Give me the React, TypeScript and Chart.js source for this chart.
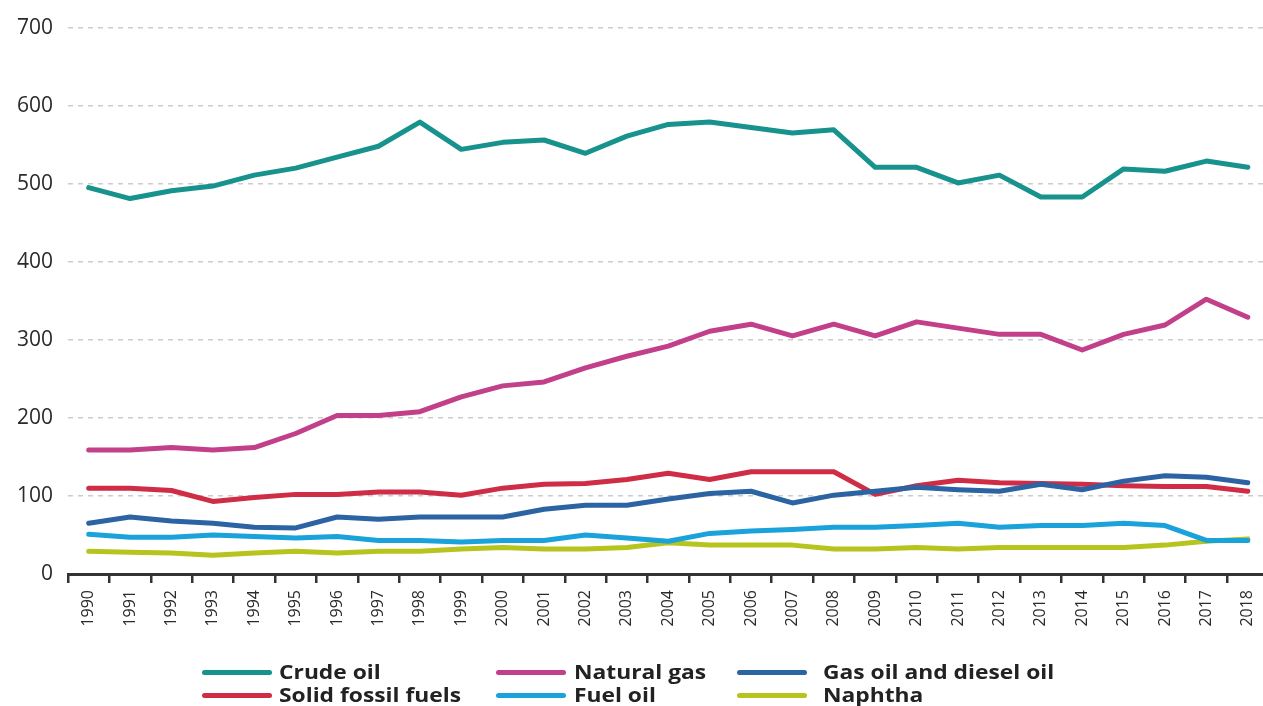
import React, { useEffect, useRef } from "react";
import { Chart, registerables } from "chart.js";

Chart.register(...registerables);

const years = [
  "1990", "1991", "1992", "1993", "1994", "1995", "1996", "1997", "1998", "1999",
  "2000", "2001", "2002", "2003", "2004", "2005", "2006", "2007", "2008", "2009",
  "2010", "2011", "2012", "2013", "2014", "2015", "2016", "2017", "2018",
];

const crudeOil = [495, 481, 491, 497, 511, 520, 534, 548, 579, 544, 553, 556, 539, 561, 576, 579, 572, 565, 569, 521, 521, 501, 511, 483, 483, 519, 516, 529, 521];
const naturalGas = [159, 159, 162, 159, 162, 180, 203, 203, 208, 227, 241, 246, 264, 279, 292, 311, 320, 305, 320, 305, 323, 315, 307, 307, 287, 307, 319, 352, 329];
const gasOilDiesel = [65, 73, 68, 65, 60, 59, 73, 70, 73, 73, 73, 83, 88, 88, 96, 103, 106, 91, 101, 106, 111, 108, 106, 115, 108, 119, 126, 124, 117];
const solidFossil = [110, 110, 107, 93, 98, 102, 102, 105, 105, 101, 110, 115, 116, 121, 129, 121, 131, 131, 131, 102, 113, 120, 117, 116, 115, 113, 112, 112, 106];
const fuelOil = [51, 47, 47, 50, 48, 46, 48, 43, 43, 41, 43, 43, 50, 46, 42, 52, 55, 57, 60, 60, 62, 65, 60, 62, 62, 65, 62, 43, 43];
const naphtha = [29, 28, 27, 24, 27, 29, 27, 29, 29, 32, 34, 32, 32, 34, 40, 37, 37, 37, 32, 32, 34, 32, 34, 34, 34, 34, 37, 42, 45];

const yTicks = [0, 100, 200, 300, 400, 500, 600, 700];

const seriesNames = ["Crude oil", "Natural gas", "Gas oil and diesel oil", "Solid fossil fuels", "Fuel oil", "Naphtha"];
const seriesColors = ["#17928d", "#c2408a", "#2b63a3", "#cf2c46", "#1aa2da", "#b6c41d"];
const seriesData = [crudeOil, naturalGas, gasOilDiesel, solidFossil, fuelOil, naphtha];

const legendCols = [
  { lineLeft: 202, textLeft: 279, items: [0, 3] },
  { lineLeft: 496, textLeft: 574, items: [1, 4] },
  { lineLeft: 737, textLeft: 823, items: [2, 5] },
];

export default function App() {
  const canvasRef = useRef<HTMLCanvasElement | null>(null);

  useEffect(() => {
    const canvas = canvasRef.current;
    if (!canvas) return;
    const chart = new Chart(canvas, {
      type: "line",
      data: {
        labels: years,
        datasets: seriesData.map((d, i) => ({
          label: seriesNames[i],
          data: d,
          borderColor: seriesColors[i],
          backgroundColor: seriesColors[i],
          borderWidth: 5,
          pointRadius: 0,
          tension: 0,
          fill: false,
          borderJoinStyle: "round" as const,
          borderCapStyle: "round" as const,
        })),
      },
      options: {
        responsive: false,
        animation: false,
        devicePixelRatio: 1,
        layout: { padding: { top: 25, right: 0, bottom: 0, left: 0 } },
        plugins: { legend: { display: false }, tooltip: { enabled: false } },
        scales: {
          x: {
            type: "category",
            offset: true,
            afterFit: (scale: any) => {
              scale.height = 132;
            },
            grid: {
              display: true,
              offset: true,
              drawOnChartArea: false,
              drawTicks: true,
              tickLength: 9,
              color: "#333333",
              lineWidth: 2.5,
            },
            border: { display: true, color: "#333333", width: 3 },
            ticks: {
              autoSkip: false,
              minRotation: 90,
              maxRotation: 90,
              padding: 7,
              color: "#2a2a2a",
              font: { family: "'Open Sans', sans-serif", size: 16 },
            },
          },
          y: {
            min: 0,
            max: 700,
            afterFit: (scale: any) => {
              scale.width = 68;
            },
            afterBuildTicks: (scale: any) => {
              scale.ticks = yTicks.map((v) => ({ value: v }));
            },
            grid: {
              color: "#cccccc",
              lineWidth: 1.5,
              drawTicks: false,
            },
            border: { display: false, dash: [5, 5] },
            ticks: {
              padding: 15,
              color: "#2a2a2a",
              font: { family: "'Open Sans', sans-serif", size: 21 },
            },
          },
        },
      },
    });
    return () => chart.destroy();
  }, []);

  return (
    <div
      style={{
        position: "fixed",
        left: 0,
        top: 0,
        width: 1263,
        height: 706,
        overflow: "hidden",
        background: "#ffffff",
      }}
    >
      <canvas ref={canvasRef} width={1274} height={706} style={{ position: "absolute", left: 0, top: 0 }} />
      {legendCols.map((col, ci) =>
        col.items.map((si, ri) => (
          <React.Fragment key={`${ci}-${ri}`}>
            <div
              style={{
                position: "absolute",
                left: col.lineLeft,
                top: 672 + ri * 23 - 2.5,
                width: 70,
                height: 5,
                borderRadius: 2.5,
                background: seriesColors[si],
              }}
            />
            <div
              style={{
                position: "absolute",
                left: col.textLeft,
                top: 672 + ri * 23 - 13,
                height: 26,
                lineHeight: "26px",
                fontFamily: "'Open Sans', sans-serif",
                fontWeight: 700,
                fontSize: 19,
                color: "#222222",
                whiteSpace: "nowrap",
                transform: "scaleX(1.2)",
                transformOrigin: "left center",
              }}
            >
              {seriesNames[si]}
            </div>
          </React.Fragment>
        ))
      )}
    </div>
  );
}
